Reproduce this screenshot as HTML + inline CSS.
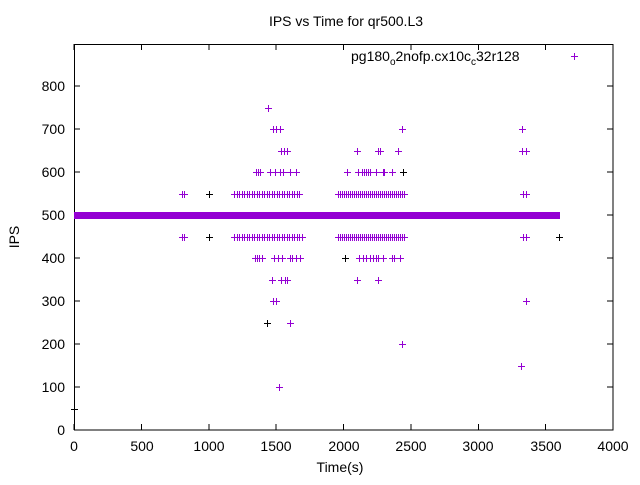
<!DOCTYPE html>
<html><head><meta charset="utf-8"><style>
body{margin:0;background:#fff}
svg text{font-family:"Liberation Sans",sans-serif;fill:#000}
</style></head><body>
<svg id="s" width="640" height="480" xmlns="http://www.w3.org/2000/svg">
<rect width="640" height="480" fill="#fff"/>
<text x="346" y="26" font-size="14" text-anchor="middle">IPS vs Time for qr500.L3</text>
<g font-size="14" text-anchor="end">
<text x="65" y="435">0</text><text x="65" y="392">100</text><text x="65" y="349">200</text>
<text x="65" y="306">300</text><text x="65" y="263">400</text><text x="65" y="220">500</text>
<text x="65" y="177">600</text><text x="65" y="134">700</text><text x="65" y="91">800</text>
</g>
<g font-size="14" text-anchor="middle">
<text x="74" y="451">0</text><text x="142" y="451">500</text><text x="209" y="451">1000</text>
<text x="276" y="451">1500</text><text x="344" y="451">2000</text><text x="411" y="451">2500</text>
<text x="478" y="451">3000</text><text x="546" y="451">3500</text><text x="613" y="451">4000</text>
</g>
<text x="340" y="472" font-size="14" text-anchor="middle">Time(s)</text>
<text x="19" y="237" font-size="14" text-anchor="middle" transform="rotate(-90 19 237)">IPS</text>
<text x="351" y="61" font-size="14">pg180<tspan font-size="10" dy="4">o</tspan><tspan dy="-4">2nofp.cx10c</tspan><tspan font-size="10" dy="4">c</tspan><tspan dy="-4">32r128</tspan></text>
<g id="ticks" stroke="#000" stroke-width="1" shape-rendering="crispEdges"></g>
<rect x="74.5" y="44.5" width="538.5" height="385.5" fill="none" stroke="#000" shape-rendering="crispEdges"/>
<rect x="74" y="212" width="486" height="7" fill="#9400d3"/>
<g id="pts" stroke="#9400d3" stroke-width="1" fill="none" shape-rendering="crispEdges"></g>
<g id="bpts" stroke="#000" stroke-width="1" fill="none" shape-rendering="crispEdges"></g>
</svg>
<script>
var NS="http://www.w3.org/2000/svg";
var tk=document.getElementById("ticks"),d="";
for(var i=0;i<=8;i++){var y=430-i*43;d+="M74 "+y+"h6M613 "+y+"h-6";}
for(var i=0;i<=8;i++){var x=74+i*67.375;d+="M"+x+" 430v-6M"+x+" 44v6";}
var p=document.createElementNS(NS,"path");p.setAttribute("d",d);tk.appendChild(p);
function Y(v){return Math.round(430-v*0.43)+0.5;}
var P=[];
function add(v,xs){xs.forEach(function(x){P.push([Math.round(x)+0.5,Y(v)]);});}
function range(a,b,st){var r=[];for(var x=a;x<=b;x+=st)r.push(x);return r;}
add(870,[574]);add(750,[268]);add(700,[273,276,280,402,522]);
add(650,[281,284,287,357,378,380,398,522,526]);
add(600,[256,258,260,270,275,280,283,290,296,347,358,362,364,366,368,370,376,383,384,392,403]);
var d550=[182,184].concat(range(234,300,2.5),range(338,404,2),[523,526]);
add(550,d550);
var d450=[182,184].concat(range(234,302,2.5),range(338,405,2),[523,526]);
add(450,d450);
add(400,[255,257,259,262,274,278,282,290,292,296,300,359,363,366,370,373,376,378,383,392,394,400]);
add(350,[272,281,285,287,357,378]);add(300,[273,276,526]);add(250,[290]);
add(200,[402]);add(150,[521]);add(100,[279]);
var dd="";P.forEach(function(q){dd+="M"+(q[0]-3.5)+" "+q[1]+"h7M"+q[0]+" "+(q[1]-3.5)+"v7";});
var pp=document.createElementNS(NS,"path");pp.setAttribute("d",dd);document.getElementById("pts").appendChild(pp);
var B=[[209.5,Y(550)],[209.5,Y(450)],[559.5,Y(450)],[345.5,Y(400)],[267.5,Y(250)],[403.5,Y(600)],[74.5,Y(50)]];
dd="";B.forEach(function(q){dd+="M"+(q[0]-3.5)+" "+q[1]+"h7M"+q[0]+" "+(q[1]-3.5)+"v7";});
pp=document.createElementNS(NS,"path");pp.setAttribute("d",dd);document.getElementById("bpts").appendChild(pp);
</script>
</body></html>
